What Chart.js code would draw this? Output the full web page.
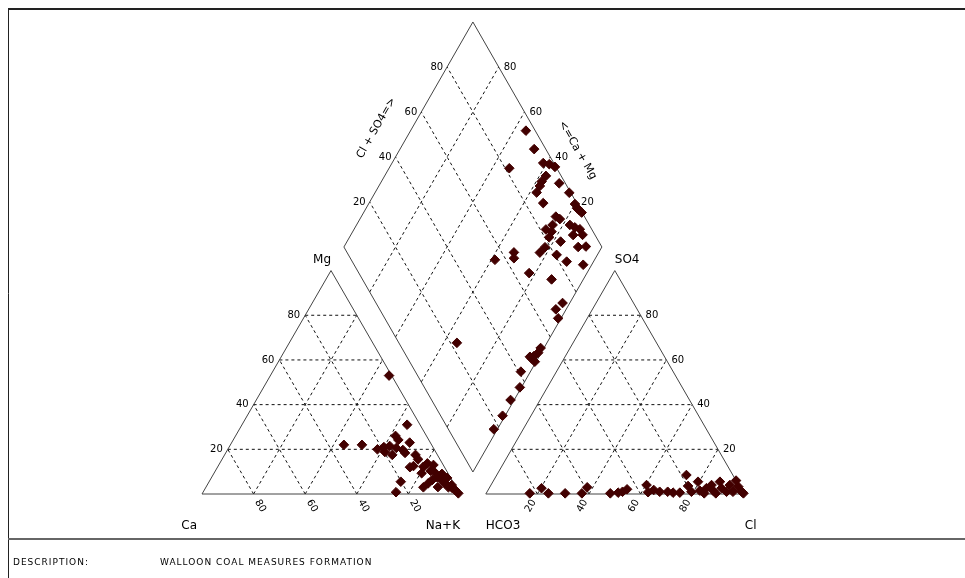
<!DOCTYPE html>
<html>
<head>
<meta charset="utf-8">
<script src="https://cdn.jsdelivr.net/npm/chart.js@4.4.0/dist/chart.umd.min.js"></script>
<style>
  html, body { margin: 0; padding: 0; background: #fff; }
  canvas { display: block; }
</style>
</head>
<body>
<canvas id="piper" width="965" height="578"></canvas>
<script>
// --- values (percent of meq/l) ---
// cation triangle
const cationMg  = [53, 31, 26, 23, 22, 22, 20, 21, 21.5, 20.6, 19.7, 17.5, 18.8, 18.4, 24.2, 17.5, 15.5, 12.5, 12, 12.2,
                   13.7, 10.4, 9.5, 7.5, 6.3, 6.3, 4.8, 3, 4, 1.8, 0.3, 4.8, 9.3, 13, 5.5, 3, 0.8, 9, 7.2, 2.7, 3.1];
const cationNaK = [46, 64, 62, 69, 44, 51, 58, 60, 62, 65, 68, 65, 61.5, 69.5, 64, 74, 76, 75.7, 74.6, 79.7,
                   80.5, 83.4, 85.6, 87.4, 86.1, 89.8, 91.8, 94, 94.8, 97.2, 99.2, 85.3, 80.5, 83.2, 74.3, 84.3, 74.8, 88.5, 91.4, 95.6, 89.9];
// anion triangle
const anionSO4 = [0.3, 2.6, 0.3, 0.3, 0.3, 3, 0.3, 0.6, 1, 2.1, 4, 0.8, 1.8, 1, 0.6, 0.6, 8.5, 3.6, 1, 5.5,
                  1.5, 2.6, 4, 1.5, 5.5, 2.6, 1, 4, 6, 3.3, 1, 0.3, 1, 0.3, 0.3, 1];
const anionCl  = [16.9, 20.3, 24.1, 30.6, 37.1, 37.8, 48.1, 51, 52.5, 53.7, 60.3, 62.5, 64.2, 66.9, 72.3, 74.9, 73.5, 76.6, 79.2, 79.5,
                  82.2, 84.2, 85.5, 87.4, 88, 90.1, 92.8, 92.6, 94, 96.2, 98.7, 99.7, 95.3, 84.5, 89, 70];
// diamond
const diamondCaMg  = [55.3, 48, 53.4, 41.4, 38.8, 36, 37.5, 37.9, 37.6, 37.4, 30.7, 24.7, 20, 18.2, 17, 15.5, 24.6, 22.5, 24, 25.6,
                      22.9, 17.3, 14.8, 12.5, 10.2, 13.8, 22.6, 17.2, 9.2, 6.3, 22, 22.8, 15.8, 10.4, 3.3, 32.9, 31.6, 38.6, 22.4, 12.3,
                      2.8, 4, 1.1, 1.3, 1.2, 2.1, 2.5, 0.5, 3.5, 3.7, 0.6, 1.4, 1, 1.4, 34.9, 32.5];
const diamondClSO4 = [96.4, 95.5, 81.6, 95.9, 98, 99.6, 94.1, 91.2, 89.5, 86.8, 97.6, 99.4, 99.1, 99, 99.4, 99.8, 88.9, 89.9, 85.8, 82.2,
                      83.9, 92.5, 93.9, 95.4, 95.2, 91.5, 81.7, 85.2, 90.8, 93.9, 77.9, 74.7, 80.7, 83.1, 88.8, 64.7, 63.4, 55.7, 66, 73.3,
                      72.3, 68.3, 67.2, 53.8, 51.8, 49.4, 48, 48.5, 47.7, 40.9, 37, 30.6, 24, 17.6, 22.5, 87];
const gridTicks = [20, 40, 60, 80];
const description = 'WALLOON COAL MEASURES FORMATION';

// --- piper geometry (triangle side = 100 units) ---
const H = Math.sqrt(3) / 2;
const GAP = 10;
const DIA_BOTTOM = 8.53, DIA_MID = 95.74;

function cationXY(mg, nak) { return { x: nak + mg / 2, y: mg * H }; }
function anionXY(so4, cl) { return { x: 100 + GAP + cl + so4 / 2, y: so4 * H }; }
function diamondXY(camg, clso4) {
    return {
        x: 100 + GAP / 2 + (clso4 - camg) / 2,
        y: DIA_BOTTOM + (DIA_MID - DIA_BOTTOM) * (camg + clso4) / 100
    };
}

const datasets = [];
const MARK = '#420000';

function addPoints(pts) {
    datasets.push({
        data: pts,
        pointStyle: 'rectRot',
        pointRadius: 4.8,
        backgroundColor: MARK,
        borderColor: MARK,
        borderWidth: 1,
        order: 0
    });
}
function addLine(pts, dashed) {
    datasets.push({
        data: pts,
        showLine: true,
        pointRadius: 0,
        borderColor: dashed ? '#111' : '#444',
        borderWidth: 1,
        borderDash: dashed ? [3, 3] : [],
        order: dashed ? 2 : 1
    });
}

addPoints(cationMg.map((m, i) => cationXY(m, cationNaK[i])));
addPoints(anionSO4.map((s, i) => anionXY(s, anionCl[i])));
addPoints(diamondCaMg.map((c, i) => diamondXY(c, diamondClSO4[i])));

// outlines
addLine([cationXY(0, 0), cationXY(0, 100), cationXY(100, 0), cationXY(0, 0)], false);
addLine([anionXY(0, 0), anionXY(0, 100), anionXY(100, 0), anionXY(0, 0)], false);
addLine([diamondXY(0, 0), diamondXY(100, 0), diamondXY(100, 100), diamondXY(0, 100), diamondXY(0, 0)], false);

// dashed grid
gridTicks.forEach(k => {
    addLine([cationXY(k, 0), cationXY(k, 100 - k)], true);
    addLine([cationXY(0, k), cationXY(100 - k, k)], true);
    addLine([cationXY(0, 100 - k), cationXY(100 - k, 0)], true);
    addLine([anionXY(k, 0), anionXY(k, 100 - k)], true);
    addLine([anionXY(0, k), anionXY(100 - k, k)], true);
    addLine([anionXY(0, 100 - k), anionXY(100 - k, 0)], true);
    addLine([diamondXY(k, 0), diamondXY(k, 100)], true);
    addLine([diamondXY(0, k), diamondXY(100, k)], true);
});

const FONT = "'DejaVu Sans', sans-serif";

const piperText = {
    id: 'piperText',
    beforeDraw(chart) {
        const ctx = chart.ctx;
        ctx.save();
        ctx.fillStyle = '#fff';
        ctx.fillRect(0, 0, chart.width, chart.height);
        ctx.restore();
    },
    afterDraw(chart) {
        const ctx = chart.ctx;
        const sx = chart.scales.x, sy = chart.scales.y;
        const px = p => ({ x: sx.getPixelForValue(p.x), y: sy.getPixelForValue(p.y) });

        function text(s, x, y, align, base, rot, font, spacing) {
            ctx.save();
            ctx.translate(x, y);
            if (rot) ctx.rotate(rot);
            ctx.font = font || '10px ' + FONT;
            ctx.letterSpacing = spacing || '0px';
            ctx.fillStyle = '#000';
            ctx.textAlign = align;
            ctx.textBaseline = base;
            ctx.fillText(s, 0, 0);
            ctx.restore();
        }

        // frame
        ctx.save();
        ctx.strokeStyle = '#222';
        ctx.lineWidth = 2;
        ctx.beginPath(); ctx.moveTo(8, 9); ctx.lineTo(965, 9); ctx.stroke();
        ctx.lineWidth = 1;
        ctx.beginPath(); ctx.moveTo(8.5, 9); ctx.lineTo(8.5, 578); ctx.stroke();
        ctx.strokeStyle = '#666';
        ctx.lineWidth = 2;
        ctx.beginPath(); ctx.moveTo(8, 539); ctx.lineTo(965, 539); ctx.stroke();
        ctx.restore();

        const big = '12px ' + FONT;
        // vertex names
        let p = px(cationXY(100, 0));
        text('Mg', p.x, p.y - 5, 'right', 'bottom', 0, big);
        p = px(anionXY(100, 0));
        text('SO4', p.x, p.y - 5, 'left', 'bottom', 0, big);
        p = px(cationXY(0, 0));
        text('Ca', p.x - 5, p.y + 32, 'right', 'middle', 0, big);
        p = px(cationXY(0, 100));
        text('Na+K', p.x, p.y + 32, 'right', 'middle', 0, big);
        p = px(anionXY(0, 0));
        text('HCO3', p.x, p.y + 32, 'left', 'middle', 0, big);
        p = px(anionXY(0, 100));
        text('Cl', p.x + 1, p.y + 32, 'left', 'middle', 0, big);

        gridTicks.forEach(k => {
            const lab = String(k);
            // cation: Mg on left edge, Ca along base
            p = px(cationXY(k, 0));
            text(lab, p.x - 5, p.y, 'right', 'middle');
            p = px(cationXY(0, 100 - k));
            text(lab, p.x + 3.5, p.y + 6.5, 'left', 'middle', Math.PI / 3);
            // anion: SO4 on right edge, Cl along base
            p = px(anionXY(k, 100 - k));
            text(lab, p.x + 5, p.y, 'left', 'middle');
            p = px(anionXY(0, k));
            text(lab, p.x - 3.5, p.y + 6.5, 'right', 'middle', -Math.PI / 3);
            // diamond upper edges
            p = px(diamondXY(100, k));
            text(lab, p.x - 4, p.y, 'right', 'middle');
            p = px(diamondXY(k, 100));
            text(lab, p.x + 5, p.y, 'left', 'middle');
        });

        // diamond axis titles
        const L = px(diamondXY(100, 0)), T = px(diamondXY(100, 100)), R = px(diamondXY(0, 100));
        let ang = Math.atan2(T.y - L.y, T.x - L.x);
        p = px(diamondXY(100, 46));
        text('Cl + SO4=>', p.x + 31 * Math.sin(ang), p.y - 31 * Math.cos(ang), 'center', 'middle', ang, '11px ' + FONT);
        ang = Math.atan2(R.y - T.y, R.x - T.x);
        p = px(diamondXY(37, 100));
        text('<=Ca + Mg', p.x + 27 * Math.sin(ang), p.y - 27 * Math.cos(ang), 'center', 'middle', ang, '11px ' + FONT);

        // description
        text('DESCRIPTION:', 13, 563, 'left', 'middle', 0, '9px ' + FONT, '1px');
        text(description, 160, 563, 'left', 'middle', 0, '9px ' + FONT, '1px');
    }
};

const SCALE = 2.58; // pixels per unit
new Chart(document.getElementById('piper'), {
    type: 'scatter',
    data: { datasets },
    options: {
        responsive: false,
        animation: false,
        events: [],
        layout: { padding: 0, autoPadding: false },
        plugins: { legend: { display: false }, tooltip: { enabled: false } },
        scales: {
            x: { type: 'linear', display: false, min: -202 / SCALE, max: (965 - 202) / SCALE },
            y: { type: 'linear', display: false, min: -(578 - 494) / SCALE, max: 494 / SCALE }
        }
    },
    plugins: [piperText]
});
</script>
</body>
</html>
